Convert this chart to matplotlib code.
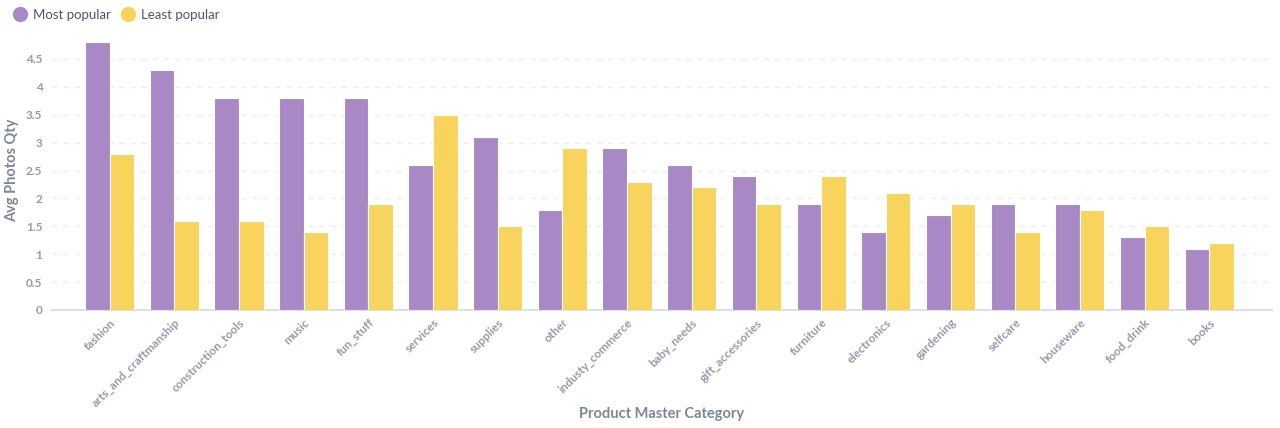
import numpy as np
import matplotlib
matplotlib.use("Agg")
import matplotlib.pyplot as plt
from matplotlib.lines import Line2D

categories = ["fashion", "arts_and_craftmanship", "construction_tools", "music", "fun_stuff",
              "services", "supplies", "other", "industy_commerce", "baby_needs",
              "gift_accessories", "furniture", "electronics", "gardening", "selfcare",
              "houseware", "food_drink", "books"]
most_popular = [4.8, 4.3, 3.8, 3.8, 3.8, 2.6, 3.1, 1.8, 2.9, 2.6, 2.4, 1.9, 1.4, 1.7, 1.9, 1.9, 1.3, 1.1]
least_popular = [2.8, 1.6, 1.6, 1.4, 1.9, 3.5, 1.5, 2.9, 2.3, 2.2, 1.9, 2.4, 2.1, 1.9, 1.4, 1.8, 1.5, 1.2]
y_ticks = [0, 0.5, 1, 1.5, 2, 2.5, 3, 3.5, 4, 4.5]

purple = "#A989C5"
yellow = "#F9D45C"
tick_color = "#949AAB"
label_color = "#7C8797"

plt.rcParams['font.family'] = ['Lato', 'DejaVu Sans']

fig = plt.figure(figsize=(12.8, 4.28), dpi=100)
ax = fig.add_axes([52 / 1280, 1 - 310 / 428, 1220 / 1280, 279 / 428])

x = np.arange(len(categories))
w = 0.38
ax.bar(x - w / 2, most_popular, width=w, color=purple, edgecolor="white", linewidth=0.8, zorder=3)
ax.bar(x + w / 2, least_popular, width=w, color=yellow, edgecolor="white", linewidth=0.8, zorder=3)

ax.set_xlim(-0.89, len(categories) - 0.03)
ax.set_ylim(0, 5)
ax.set_yticks(y_ticks)
ax.set_yticklabels([f"{t:g}" for t in y_ticks])
ax.yaxis.grid(True, linestyle=(0, (4, 4)), color="#ECEEF1", linewidth=1, zorder=0)
ax.set_axisbelow(True)

ax.set_xticks(x)
ax.set_xticklabels(categories, rotation=45, ha="right", rotation_mode="anchor")
ax.tick_params(axis="x", length=0, pad=5, labelsize=8.5, labelcolor=tick_color)
ax.tick_params(axis="y", length=0, pad=7, labelsize=8.5, labelcolor=tick_color)
for lab in ax.get_xticklabels() + ax.get_yticklabels():
    lab.set_fontweight("bold")

for s in ["top", "right", "left"]:
    ax.spines[s].set_visible(False)
ax.spines["bottom"].set_color("#DCDFE3")
ax.spines["bottom"].set_linewidth(1.5)

ax.set_ylabel("Avg Photos Qty", fontsize=10.5, fontweight="bold", color=label_color)
ax.yaxis.set_label_coords(-0.027, 0.5)
fig.text(662 / 1280, 1 - 414 / 428, "Product Master Category", ha="center", va="center",
         fontsize=10.5, fontweight="bold", color=label_color)

handles = [Line2D([0], [0], marker="o", linestyle="", markersize=10, markerfacecolor=purple, markeredgecolor=purple),
           Line2D([0], [0], marker="o", linestyle="", markersize=10, markerfacecolor=yellow, markeredgecolor=yellow)]
fig.legend(handles, ["Most popular", "Least popular"], loc="center left",
           bbox_to_anchor=(0.0, 1 - 15 / 428), ncol=2, frameon=False, fontsize=9.5,
           handlelength=1.2, handletextpad=0.38, columnspacing=0.7, labelcolor="#4C5773")

fig.savefig("out.png", dpi=100, facecolor="white")
